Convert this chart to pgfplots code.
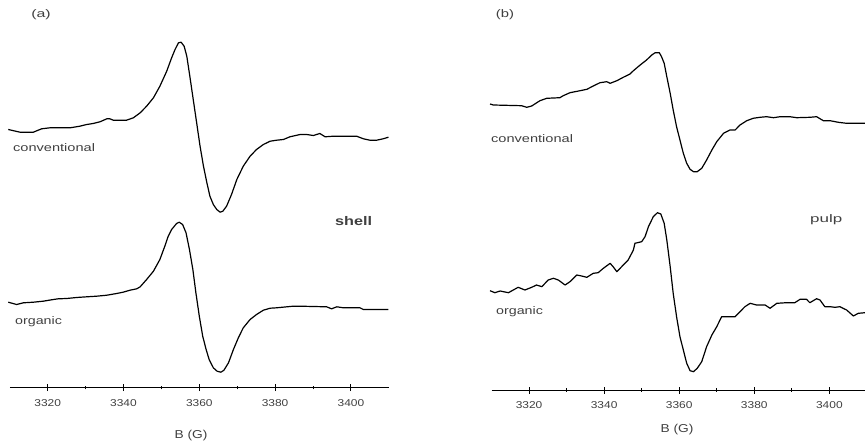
\documentclass[border=0pt]{standalone}
\usepackage{pgfplots}
\pgfplotsset{compat=1.18}
\usepackage{graphicx}
\usepackage{fontspec}
\setmainfont{Liberation Sans}
\definecolor{txt}{HTML}{404040}

\pgfplotstableread{
G h
3309.6 258
3312.7 255.3
3316.2 255.3
3318.4 258.7
3320.6 259.7
3325.9 259.7
3328.5 261.3
3330.3 263
3332.0 264
3333.8 265.7
3335.6 268.7
3336.4 268.7
3337.3 267.3
3340.8 267.3
3342.6 269.7
3344.4 274.7
3346.1 281.3
3347.9 289.7
3349.6 301.3
3351.4 316.3
3352.7 329.7
3353.6 338
3354.5 344.7
3355.2 345.3
3356.0 341.3
3356.7 331.3
3357.5 311.3
3358.4 288
3359.3 264.7
3360.2 241.3
3361.1 221.3
3362.0 204.7
3362.8 191.3
3363.7 183
3364.6 178
3365.5 175.3
3366.2 176.3
3367.2 181.3
3368.5 193
3369.9 208
3371.6 221.3
3373.4 231.3
3375.1 238
3376.9 243
3378.7 246.3
3380.4 247.3
3382.2 248
3383.9 250.7
3386.6 253
3388.3 253
3390.1 252
3391.8 254
3393.2 250.7
3395.4 251.3
3401.5 251.3
3403.3 248.7
3405.0 247.3
3406.8 247.3
3408.5 248.7
3409.9 250.3
}\shellconv

\pgfplotstableread{
G h
3309.6 85.3
3311.8 83
3313.6 84.7
3316.2 85.3
3318.8 86.3
3321.5 88
3322.8 88.7
3325.0 89
3327.6 90
3330.3 90.7
3332.9 91.3
3335.6 92.3
3338.2 94
3339.9 95.3
3341.7 97.3
3343.5 98.7
3344.4 100.7
3346.1 108
3347.9 116.3
3349.6 128
3350.9 141.3
3351.8 151.3
3352.7 158
3354.0 164
3354.7 165.3
3355.6 163
3356.5 154.7
3357.4 138
3358.3 118
3359.1 94.7
3360.0 71.3
3360.9 51.3
3361.8 38
3362.6 28
3363.7 19.7
3364.7 16.3
3365.7 15.3
3366.5 17.3
3367.7 24.7
3369.0 38
3370.3 49.7
3371.6 59.7
3373.4 68
3375.1 73
3376.9 77.3
3378.7 79.3
3380.4 79.7
3383.1 80.7
3384.8 81.3
3386.6 81.3
3393.6 80.7
3394.9 78.7
3396.3 80.7
3398.0 79.7
3402.4 79.7
3403.3 78
3406.8 78
3409.9 78
}\shellorg

\pgfplotstableread{
G h
3309.6 286
3310.5 285
3318.0 284.3
3319.4 282.7
3320.7 284
3322.9 289.3
3324.7 291.7
3328.2 292.3
3329.1 294.3
3330.9 297.3
3333.6 299.3
3335.4 300.7
3337.1 304
3338.9 307.3
3340.7 308.3
3341.6 306.7
3343.4 309.3
3345.1 312.7
3346.9 316
3347.8 319.3
3349.6 325
3351.3 330
3352.7 335
3353.6 337.3
3354.7 337.3
3355.3 333.3
3356.0 326.7
3356.7 313.3
3357.6 296.7
3358.4 280
3359.3 263.3
3360.2 250
3361.1 236.7
3362.0 226.7
3362.9 220.7
3363.8 218.3
3364.8 218.3
3366.0 221.7
3367.3 230
3368.7 240
3370.0 248.3
3371.8 256.7
3373.5 260
3374.9 260
3376.2 265
3378.0 269.3
3379.7 271.7
3381.5 272.7
3383.3 273.3
3385.1 272.3
3386.9 273.3
3389.5 273.3
3391.3 272.3
3394.8 272.7
3396.6 273.3
3398.4 269.3
3400.2 269.3
3402.4 267.7
3404.6 266.7
3409.5 266.7
}\pulpconv

\pgfplotstableread{
G h
3309.6 99.3
3310.9 97.3
3312.3 99
3314.5 97.3
3315.8 100
3317.1 102.7
3318.9 100
3320.7 102.7
3322.0 105
3323.4 103.3
3325.1 110
3326.5 111.7
3327.8 110
3329.6 105
3330.9 108.3
3332.7 115
3334.0 114
3335.4 112.7
3337.1 116.7
3338.4 117.3
3339.8 121.7
3341.6 126.7
3342.4 123.3
3343.4 118.3
3345.1 125
3346.4 130
3347.8 140
3348.2 146.7
3350.0 148.3
3350.9 153.3
3351.8 163.3
3353.1 173.3
3354.2 177.3
3355.1 176
3356.0 166.7
3356.7 150
3357.6 123.3
3358.4 96.7
3359.3 73.3
3360.2 53.3
3361.1 40
3362.0 26.7
3362.9 19.3
3363.8 18.3
3364.8 21.7
3366.0 28.3
3367.3 43.3
3368.7 55
3370.0 63.3
3371.3 73.3
3372.7 73.3
3374.9 73.3
3376.2 78.3
3377.5 83.3
3378.9 86.7
3380.6 85
3382.9 85
3384.2 81.7
3386.0 86.7
3388.6 87.3
3390.8 87.3
3392.2 90.7
3393.9 90.7
3394.8 87.3
3396.6 91.3
3397.5 90
3398.8 83.3
3400.2 83.3
3401.5 82.7
3402.8 83.3
3404.6 80
3406.4 74
3407.7 76.7
3409.5 77.3
}\pulporg

\pgfplotsset{
  eprstyle/.style={
    scale only axis,
    axis y line=none,
    axis x line=bottom,
    axis line style={-, line width=0.9bp, black},
    xmin=3310,
    ymin=0,
    clip=false,
    xtick={3320,3340,3360,3380,3400},
    xticklabels={\scalebox{1.2}[1]{3320},\scalebox{1.2}[1]{3340},\scalebox{1.2}[1]{3360},\scalebox{1.2}[1]{3380},\scalebox{1.2}[1]{3400}},
    minor x tick num=1,
    tick align=center,
    major tick length=7bp,
    minor tick length=3.5bp,
    tick style={line width=1bp, black},
    xticklabel style={font=\fontsize{10}{11}\selectfont, text=txt, inner sep=1bp, yshift=-7bp},
    ytick=\empty,
  },
  spec/.style={black, line width=1.2bp, no marks, line join=round},
}

\begin{document}
\begin{tikzpicture}[x=1bp,y=1bp]
\useasboundingbox (0,0) rectangle (865,-445);

% panel (a)
\begin{axis}[eprstyle,
  at={(9.8bp,-387.5bp)}, anchor=south west,
  width=379bp, height=387.5bp,
  xmax=3410, ymax=387.5]
\addplot[spec] table[x=G,y=h] {\shellconv};
\addplot[spec] table[x=G,y=h] {\shellorg};
\end{axis}

% panel (b)
\begin{axis}[eprstyle,
  at={(491.5bp,-390bp)}, anchor=south west,
  width=373.5bp, height=390bp,
  xmax=3409.5, ymax=390]
\addplot[spec] table[x=G,y=h] {\pulpconv};
\addplot[spec] table[x=G,y=h] {\pulporg};
\end{axis}

% texts
\begin{scope}[every node/.style={text=txt, inner sep=0pt, font=\fontsize{11}{13}\selectfont}]
\node at (41,-15) {\scalebox{1.45}[1]{(a)}};
\node at (505,-15) {\scalebox{1.35}[1]{(b)}};
\node[anchor=west] at (13,-148) {\scalebox{1.33}[1]{conventional}};
\node[anchor=west] at (15,-322) {\scalebox{1.3}[1]{organic}};
\node[anchor=west, font=\fontsize{12.5}{14}\selectfont\bfseries] at (335,-221) {\scalebox{1.3}[1]{shell}};
\node[anchor=west] at (491,-139) {\scalebox{1.33}[1]{conventional}};
\node[anchor=west] at (496,-312) {\scalebox{1.3}[1]{organic}};
\node[anchor=west] at (810,-220) {\scalebox{1.55}[1]{pulp}};
\node[font=\fontsize{11.5}{13}\selectfont] at (191,-436) {\scalebox{1.2}[1]{B (G)}};
\node[font=\fontsize{11.5}{13}\selectfont] at (677,-430) {\scalebox{1.2}[1]{B (G)}};
\end{scope}
\end{tikzpicture}
\end{document}
